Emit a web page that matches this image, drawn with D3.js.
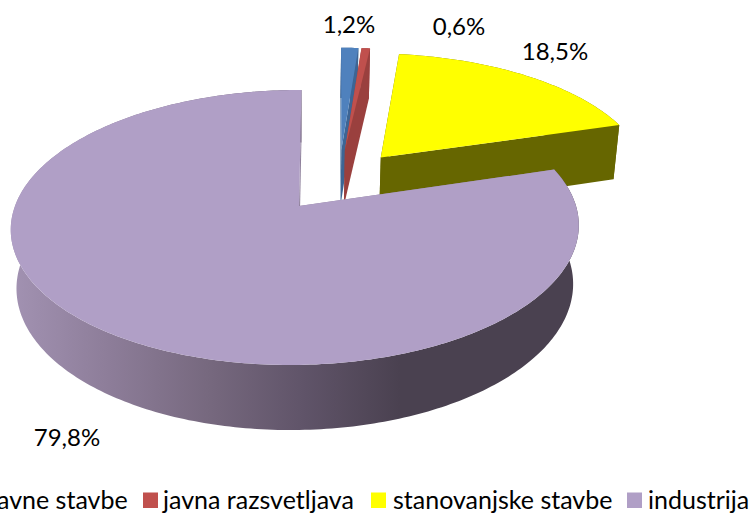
<!DOCTYPE html>
<html>
<head>
<meta charset="utf-8">
<script src="https://cdn.jsdelivr.net/npm/d3@7"></script>
<style>
    html, body { margin: 0; padding: 0; background: #fff; overflow: hidden; }
    svg { display: block; }
    text { font-family: Lato, "Open Sans", sans-serif; fill: #000; }
</style>
</head>
<body>
<svg></svg>
<script>
const categories = ["javne stavbe", "javna razsvetljava", "stanovanjske stavbe", "industrija"];
const values = [1.2, 0.6, 18.5, 79.8];
const valueLabels = ["1,2%", "0,6%", "18,5%", "79,8%"];

const topColors = ["#4f81bd", "#c0504d", "#ffff00", "#b09fc6"];
const sideColors = ["#3d6594", "#9a403e", "#666600", "#8f819c"];

const width = 749;
const height = 515;

const svg = d3.select("svg")
    .attr("width", width)
    .attr("height", height);

// projection of the pie plane: u goes right, v goes back, z goes down (0..1)
const originX = 295.5, originY = 206;
const radiusX = 280.5, radiusY = 134.1, depth = 59.4;
const perspective = 0.1564, perspectiveZ = 0.02, skew = 4.5;
const explode = [0.24, 0.24, 0.23, 0.26];
const rotation = 0.5 * Math.PI / 180;
const pointShift = [0, 0, 0.011, 0.0125]; // the point of a slice sits a little right of its rim centre

function project(u, v, z) {
    let s = 1 / (1 + perspective * v + perspectiveZ * z);
    return [originX + (radiusX * u + skew * v) * s, originY + (depth * z - radiusY * v) * s];
}

let slices = d3.pie().sort(null)
    .startAngle(rotation)
    .endAngle(2 * Math.PI + rotation)(values);

// every slice is pushed out along its middle angle, the purple one ends up on the origin
let lastMid = (slices[3].startAngle + slices[3].endAngle) / 2;
let baseU = -explode[3] * Math.sin(lastMid);
let baseV = -explode[3] * Math.cos(lastMid);

function apex(d, i) {
    let mid = (d.startAngle + d.endAngle) / 2;
    return [baseU + explode[i] * Math.sin(mid), baseV + explode[i] * Math.cos(mid)];
}

function rimPoints(d, i, z) {
    let a = apex(d, i);
    let steps = Math.max(2, Math.ceil((d.endAngle - d.startAngle) * 60));
    return d3.range(steps + 1).map(function(k) {
        let t = d.startAngle + (d.endAngle - d.startAngle) * k / steps;
        return project(a[0] + Math.sin(t), a[1] + Math.cos(t), z);
    });
}

let line = d3.line();

let defs = svg.append("defs");
let wallGradient = defs.append("linearGradient")
    .attr("id", "wall")
    .attr("gradientUnits", "userSpaceOnUse")
    .attr("x1", 12).attr("x2", 400)
    .attr("y1", 0).attr("y2", 0);
wallGradient.append("stop").attr("offset", "0%").attr("stop-color", "#a292b2");
wallGradient.append("stop").attr("offset", "25%").attr("stop-color", "#8d7d99");
wallGradient.append("stop").attr("offset", "50%").attr("stop-color", "#77697f");
wallGradient.append("stop").attr("offset", "75%").attr("stop-color", "#605469");
wallGradient.append("stop").attr("offset", "100%").attr("stop-color", "#4a4150");

let pie3d = svg.append("g").attr("class", "pie");

slices.forEach(function(d, i) {
    let a = apex(d, i);
    let top = rimPoints(d, i, 0);
    let bottom = rimPoints(d, i, 1);
    let centerTop = project(a[0] + pointShift[i], a[1], 0);
    let centerBottom = project(a[0] + pointShift[i], a[1], 1);

    // outer wall, only the big slice shows it
    pie3d.append("path")
        .attr("d", line(top.concat(bottom.slice().reverse())) + "Z")
        .attr("fill", i === 3 ? "url(#wall)" : sideColors[i]);

    // the two cut faces
    pie3d.append("path")
        .attr("d", line([centerTop, top[0], bottom[0], centerBottom]) + "Z")
        .attr("fill", sideColors[i]);
    pie3d.append("path")
        .attr("d", line([centerTop, top[top.length - 1], bottom[bottom.length - 1], centerBottom]) + "Z")
        .attr("fill", sideColors[i]);

    // top face
    pie3d.append("path")
        .attr("d", line([centerTop].concat(top)) + "Z")
        .attr("fill", topColors[i]);
});

// value labels
let labelX = [349, 459, 555, 67];
let labelY = [33, 35, 60, 446];

svg.append("g")
    .selectAll("text")
    .data(valueLabels)
    .enter().append("text")
    .attr("x", function(d, i) { return labelX[i]; })
    .attr("y", function(d, i) { return labelY[i]; })
    .attr("text-anchor", "middle")
    .attr("font-size", 24)
    .text(function(d) { return d; });

// legend, the first entry is cut by the left side of the page
let swatchX = [-30, 143, 371, 627];
let legendX = [-9, 163, 393, 648];

let legend = svg.append("g").attr("class", "legend");

legend.selectAll("rect")
    .data(categories)
    .enter().append("rect")
    .attr("x", function(d, i) { return swatchX[i]; })
    .attr("y", 492.5)
    .attr("width", 15)
    .attr("height", 15.5)
    .attr("fill", function(d, i) { return topColors[i]; });

legend.selectAll("text")
    .data(categories)
    .enter().append("text")
    .attr("x", function(d, i) { return legendX[i]; })
    .attr("y", 509)
    .attr("font-size", 25)
    .text(function(d) { return d; });
</script>
</body>
</html>
